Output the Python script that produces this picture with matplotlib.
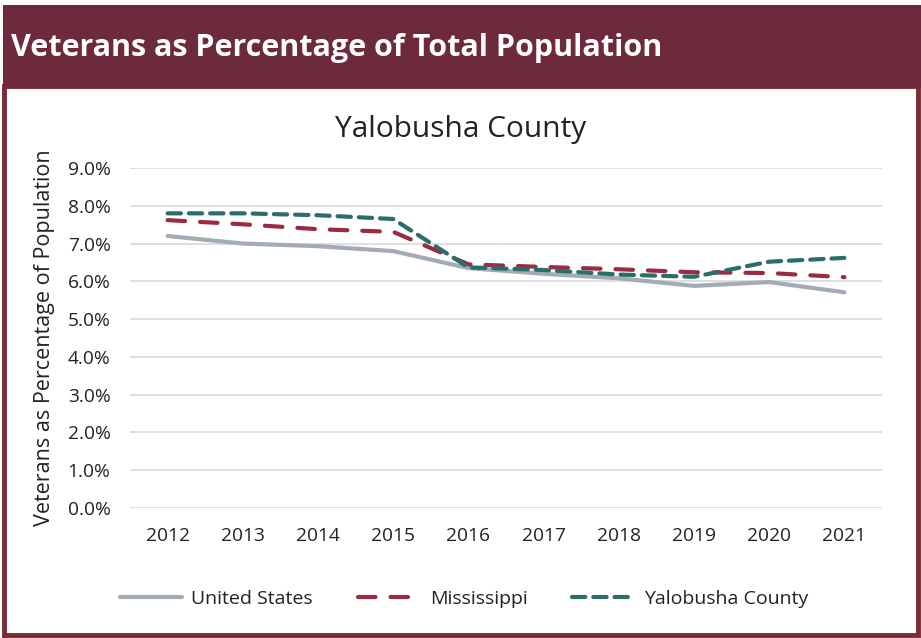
import matplotlib
matplotlib.use("Agg")
import matplotlib.pyplot as plt
from matplotlib.patches import Rectangle
from matplotlib.ticker import FuncFormatter

years = ["2012", "2013", "2014", "2015", "2016", "2017", "2018", "2019", "2020", "2021"]
united_states = [7.20, 7.00, 6.93, 6.80, 6.35, 6.20, 6.08, 5.88, 5.98, 5.71]
mississippi = [7.62, 7.51, 7.38, 7.31, 6.45, 6.38, 6.32, 6.24, 6.22, 6.11]
yalobusha = [7.80, 7.80, 7.75, 7.65, 6.37, 6.30, 6.18, 6.12, 6.52, 6.62]
yticks = [0, 1, 2, 3, 4, 5, 6, 7, 8, 9]

W, H = 921, 638
fig = plt.figure(figsize=(W / 100, H / 100), dpi=100)
fig.patch.set_facecolor("white")

maroon = "#6D2A3D"
border = "#7A2B33"
FONT = "Open Sans"

def fx(px):
    return px / W

def fy(py):
    return 1 - py / H

# outer panel border
fig.add_artist(Rectangle((fx(4), fy(635)), fx(914), (635 - 86) / H, transform=fig.transFigure,
                         facecolor="white", edgecolor=border, linewidth=3.5, zorder=0))
# header band
fig.add_artist(Rectangle((fx(3), fy(88)), fx(918), 83 / H, transform=fig.transFigure,
                         facecolor=maroon, edgecolor="none", zorder=1))
fig.text(fx(11), fy(48), "Veterans as Percentage of Total Population", color="white",
         fontsize=22, fontweight="bold", family=FONT, va="center", ha="left", zorder=2)

# chart title, centred on the panel
fig.text(fx(461), fy(129), "Yalobusha County", fontsize=21.5, family=FONT, color="#222222",
         ha="center", va="center")

ax = fig.add_axes([fx(130), fy(508), fx(752), 340 / H])
x = list(range(len(years)))
l1, = ax.plot(x, united_states, color="#A3ABB5", lw=3, solid_capstyle="round", label="United States", zorder=3)
l2, = ax.plot(x, mississippi, color="#9B2B40", lw=3, dashes=(4.2, 3.6), dash_capstyle="round", label="Mississippi", zorder=4)
l3, = ax.plot(x, yalobusha, color="#2A6E6C", lw=3, dashes=(3.2, 1.9), dash_capstyle="round", label="Yalobusha County", zorder=5)

ax.set_xlim(-0.5, len(years) - 0.5)
ax.set_ylim(0, 9)
ax.set_yticks(yticks)
ax.yaxis.set_major_formatter(FuncFormatter(lambda v, p: f"{v:.1f}%"))
ax.set_xticks(x)
ax.set_xticklabels(years)
ax.grid(axis="y", color="#D9D9D9", lw=1.2)
ax.set_axisbelow(True)
for s in ax.spines.values():
    s.set_visible(False)
ax.tick_params(length=0, labelsize=13.8, colors="#222222")
ax.tick_params(axis="y", pad=14)
ax.tick_params(axis="x", pad=14)
for t in ax.get_xticklabels() + ax.get_yticklabels():
    t.set_family(FONT)
ax.set_ylabel("Veterans as Percentage of Population", fontsize=15.5, family=FONT,
              color="#222222", labelpad=9)

leg = fig.legend(handles=[l1, l2, l3], loc="center", bbox_to_anchor=(fx(464), fy(599)), ncol=3,
                 frameon=False, handlelength=3.2, columnspacing=2.3, handletextpad=0.5,
                 prop={"family": FONT, "size": 14})
for t in leg.get_texts():
    t.set_color("#222222")

fig.savefig("out.png", dpi=100, facecolor="white")
